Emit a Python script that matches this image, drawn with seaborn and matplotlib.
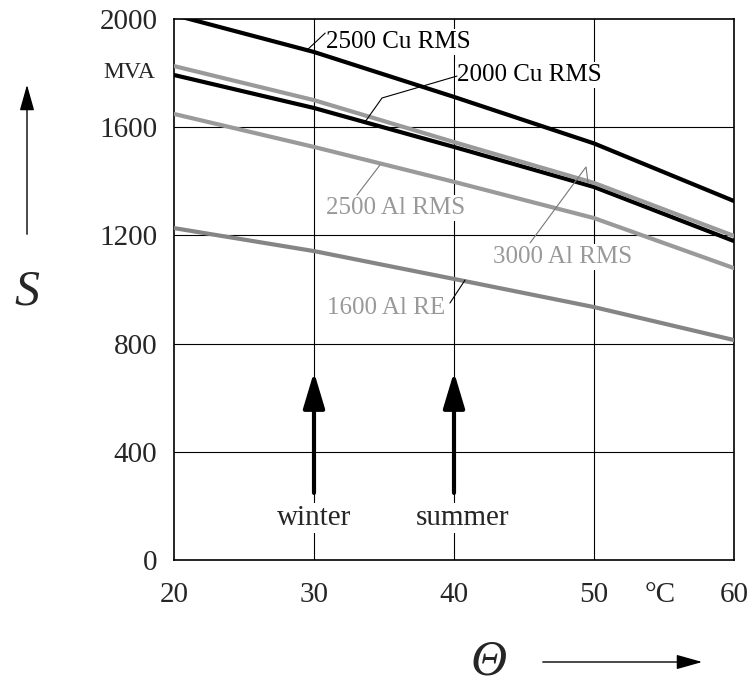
import numpy as np
import pandas as pd
import matplotlib
matplotlib.use("Agg")
import matplotlib.pyplot as plt
from matplotlib.patches import FancyArrowPatch
import seaborn as sns

# ---- data ----
theta = [20, 30, 40, 50, 60]
cu2500 = [2015, 1878, 1712, 1540, 1327]
cu2000 = [1793, 1671, 1527, 1379, 1179]
al3000 = [1826, 1700, 1545, 1394, 1198]
al2500 = [1649, 1527, 1398, 1264, 1079]
al1600 = [1227, 1142, 1039, 935, 813]
series_names = ["2500 Cu RMS", "2000 Cu RMS", "3000 Al RMS", "2500 Al RMS", "1600 Al RE"]
y_ticks = [0, 400, 800, 1200, 1600, 2000]
x_ticks = [20, 30, 40, 50, 60]

sns.set_style("white")
plt.rcParams["font.family"] = ["Liberation Serif", "DejaVu Serif"]

frames = []
for name, vals in zip(series_names, [cu2500, cu2000, al3000, al2500, al1600]):
    frames.append(pd.DataFrame({"theta": theta, "S": vals, "series": name}))
df = pd.concat(frames, ignore_index=True)

colors = {"2500 Cu RMS": "#000000", "2000 Cu RMS": "#000000",
          "3000 Al RMS": "#9a9a9a", "2500 Al RMS": "#9a9a9a", "1600 Al RE": "#858585"}
txtgray = "#999999"

fig = plt.figure(figsize=(7.52, 6.84), dpi=100)
W, H = 752, 684
ax = fig.add_axes([174 / W, 1 - 560 / H, (734 - 174) / W, (560 - 19) / H])

for name in series_names:
    sub = df[df["series"] == name]
    sns.lineplot(data=sub, x="theta", y="S", ax=ax, color=colors[name], lw=3.0,
                 legend=False, zorder=5, errorbar=None)

ax.set_xlim(20, 60)
ax.set_ylim(0, 2000)
ax.set_xticks(x_ticks)
ax.set_yticks(y_ticks)
ax.set_xticklabels([str(v) for v in x_ticks])
ax.set_yticklabels([str(v) for v in y_ticks])
ax.tick_params(axis="both", length=0, labelsize=21)
ax.tick_params(axis="y", pad=12)
ax.tick_params(axis="x", pad=16)
ax.set_xlabel("")
ax.set_ylabel("")
for sp in ax.spines.values():
    sp.set_color("black")
    sp.set_linewidth(1.2)

# grid
for yv in [400, 800, 1200, 1600]:
    ax.axhline(yv, color="black", lw=0.8, zorder=1)
for xv in [30, 40, 50]:
    ax.axvline(xv, color="black", lw=0.8, zorder=1)

bbox = dict(facecolor="white", edgecolor="none", pad=1.5)

def leader(pts, color="black"):
    xs = [p[0] for p in pts]
    ys = [p[1] for p in pts]
    ax.plot(xs, ys, color=color, lw=0.8, zorder=6)

ax.text(30.86, 1915, "2500 Cu RMS", fontsize=18, color="black", ha="left", va="center",
        bbox=bbox, zorder=4)
leader([(29.5, 1885), (30.8, 1948)])

ax.text(40.25, 1793, "2000 Cu RMS", fontsize=18, color="black", ha="left", va="center",
        bbox=bbox, zorder=4)
leader([(33.64, 1619), (34.86, 1708), (40.21, 1789)])

ax.text(30.86, 1301, "2500 Al RMS", fontsize=18, color=txtgray, ha="left", va="center",
        bbox=bbox, zorder=4)
leader([(34.71, 1460), (33.07, 1349)], color="#777777")

ax.text(42.79, 1120, "3000 Al RMS", fontsize=18, color=txtgray, ha="left", va="center",
        bbox=bbox, zorder=4)
leader([(45.43, 1172), (49.43, 1453), (49.57, 1397)], color="#777777")

ax.text(30.93, 932, "1600 Al RE", fontsize=18, color=txtgray, ha="left", va="center",
        bbox=bbox, zorder=4)
leader([(39.71, 950), (40.79, 1035)])

# winter / summer
ax.text(30, 155, "winter", fontsize=21, ha="center", va="center", bbox=bbox, zorder=4)
ax.text(40.64, 155, "summer", fontsize=21, ha="center", va="center", bbox=bbox, zorder=4)
for xv in [30, 40]:
    ax.annotate("", xy=(xv, 695), xytext=(xv, 248),
                arrowprops=dict(arrowstyle="-|>,head_length=1.1,head_width=0.33",
                                mutation_scale=20, lw=3, color="black",
                                shrinkA=0, shrinkB=0), zorder=7)

# unit labels
fig.text(155 / W, 1 - 73 / H, "MVA", fontsize=17, ha="right", va="center")
fig.text(660 / W, 1 - 595 / H, "°C", fontsize=21, ha="center", va="center")

# axis symbols
fig.text(27 / W, 1 - 292 / H, "S", fontsize=36, style="italic", ha="center", va="center")
fig.text(489 / W, 1 - 662 / H, "Θ", fontsize=36, style="italic", ha="center", va="center")

fig.add_artist(FancyArrowPatch((27 / W, 1 - 237 / H), (27 / W, 1 - 82 / H),
                               transform=fig.transFigure,
                               arrowstyle="-|>,head_length=1.6,head_width=0.45",
                               mutation_scale=10, lw=1.0, color="black"))
fig.add_artist(FancyArrowPatch((540 / W, 1 - 662 / H), (705 / W, 1 - 662 / H),
                               transform=fig.transFigure,
                               arrowstyle="-|>,head_length=1.6,head_width=0.45",
                               mutation_scale=10, lw=1.0, color="black"))

fig.savefig("out.png", dpi=100, facecolor="white")
